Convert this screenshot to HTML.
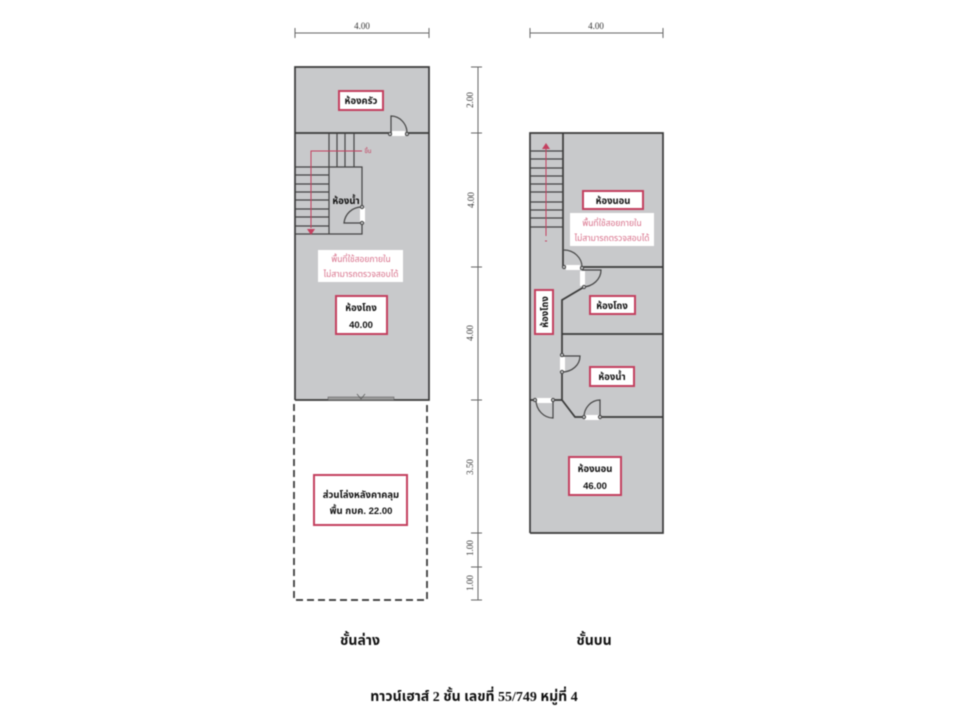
<!DOCTYPE html>
<html lang="th">
<head>
<meta charset="utf-8">
<title>ทาวน์เฮาส์ 2 ชั้น</title>
<style>
html,body{margin:0;padding:0;background:#fff;width:960px;height:720px;overflow:hidden}
svg{display:block;filter:blur(.4px)}
text{font-family:"Liberation Sans","Noto Sans Thai","Loma","Garuda",sans-serif;text-anchor:middle}
.dim{font-family:"Liberation Serif",serif;font-size:9px;fill:#333}
.rm{font-size:9.5px;font-weight:bold;fill:#111}
.nt{font-size:8.5px;fill:#d8708a}
.fl{font-family:"Liberation Serif","Noto Sans Thai",serif;font-size:14px;font-weight:bold;fill:#111}
.w{stroke:#3a3a3a;stroke-width:1.7;fill:none}
.t{stroke:#444;stroke-width:1.2;fill:none}
.d{stroke:#666;stroke-width:1;fill:none}
.r{fill:#fff;stroke:#c4405f;stroke-width:2}
.g{fill:#c8c9cb}
.j{fill:#c8c9cb;stroke:#444;stroke-width:1}
</style>
</head>
<body>
<svg width="960" height="720" viewBox="0 0 960 720" xmlns="http://www.w3.org/2000/svg">
<rect width="960" height="720" fill="#fff"/>
<!-- top dims -->
<path class="d" d="M295 33H429M295 28V38M429 28V38M530 33H663M530 28V38M663 28V38"/>
<text class="dim" x="362" y="29">4.00</text>
<text class="dim" x="596" y="29">4.00</text>
<!-- vertical dims -->
<path class="d" d="M478 67V600M471 67H482M471 133H482M471 267H482M471 400H482M471 533H482M471 567H482M471 600H482"/>
<text class="dim" transform="translate(473,100) rotate(-90)">2.00</text>
<text class="dim" transform="translate(474,200) rotate(-90)">4.00</text>
<text class="dim" transform="translate(473,333) rotate(-90)">4.00</text>
<text class="dim" transform="translate(473,467) rotate(-90)">3.50</text>
<text class="dim" transform="translate(473,548) rotate(-90)">1.00</text>
<text class="dim" transform="translate(473,583) rotate(-90)">1.00</text>

<!-- ground floor -->
<rect class="g" x="295" y="67" width="134" height="333"/>
<path class="w" d="M295 400V67H429V400H295"/>
<path class="w" d="M295 133H390M406 133H429"/>
<path class="t" d="M329 133V167M337 133V167M345 133V167M354 133V167"/>
<path class="t" d="M295 167H362V207M362 223V234H295M295 175H329M295 184H329M295 192H329M295 200H329M295 209H329M295 217H329M295 226H329M329 167V234"/>
<path stroke="#c4405f" stroke-width="1" fill="none" d="M362 151H311V228"/>
<path fill="#c4405f" d="M307 229H315L311 235Z"/>
<text x="368" y="153" font-size="6" fill="#c4405f">ขึ้น</text>
<!-- kitchen door -->
<rect x="392" y="131" width="13" height="5" fill="#fff"/>
<path class="t" d="M391 133V116C400 116 407 124 407 133"/>
<circle class="j" cx="390" cy="134" r="1.6"/><circle class="j" cx="407" cy="134" r="1.6"/>
<!-- bath door -->
<rect x="360" y="208" width="5" height="14" fill="#fff"/>
<path class="t" d="M362 223H344C345 214 352 207 362 207"/>
<circle class="j" cx="362" cy="207" r="1.6"/><circle class="j" cx="362" cy="223" r="1.6"/>
<!-- window -->
<rect x="328" y="397" width="66" height="3" fill="#9a9a9a" stroke="#555" stroke-width=".5"/>
<path d="M357 394L361 399L365 394" stroke="#555" stroke-width=".7" fill="none"/>
<!-- labels -->
<rect class="r" x="339" y="91" width="44" height="19"/>
<text class="rm" x="361" y="104">ห้องครัว</text>
<text class="rm" x="346" y="204">ห้องน้ำ</text>
<rect x="318" y="250" width="85" height="32" fill="#fff"/>
<text class="nt" x="361" y="262">พื้นที่ใช้สอยภายใน</text>
<text class="nt" x="361" y="277">ไม่สามารถตรวจสอบได้</text>
<rect class="r" x="336" y="296" width="51" height="38"/>
<text class="rm" x="361" y="311">ห้องโถง</text>
<text class="rm" x="361" y="328" font-size="10">40.00</text>
<!-- dashed -->
<path fill="none" stroke="#333" stroke-width="1.7" stroke-dasharray="7 4" d="M294 404V600H427V404"/>
<rect class="r" x="314" y="475" width="93" height="50"/>
<text class="rm" x="361" y="498" font-size="10">ส่วนโล่งหลังคาคลุม</text>
<text class="rm" x="361" y="514" font-size="10">พื้น กบค. 22.00</text>

<!-- upper floor -->
<rect class="g" x="530" y="133" width="133" height="400"/>
<path class="w" d="M530 533V133H663V533H530"/>
<path class="w" d="M563 133V267M582 267H663M584 287L562 300V355M562 334H663M562 372V400H553M530 400H535M562 400L575 417H583M600 417H663"/>
<path class="t" d="M530 151H563M530 159H563M530 168H563M530 176H563M530 184H563M530 192H563M530 202H563M530 210H563M530 218H563M530 227H563"/>
<path stroke="#c4405f" stroke-width="1" fill="none" d="M546 236V148M545 241H547"/>
<path fill="#c4405f" d="M542 149H550L546 143Z"/>
<!-- doors -->
<rect x="566" y="265" width="14" height="5" fill="#fff"/>
<path class="t" d="M564 250C574 250 582 258 582 267"/>
<circle class="j" cx="564" cy="267" r="1.6"/><circle class="j" cx="582" cy="268" r="1.6"/>
<rect x="580" y="271" width="5" height="15" fill="#fff"/>
<path class="t" d="M582 270H601C601 279 593 287 582 287"/>
<circle class="j" cx="584" cy="287" r="1.6"/>
<rect x="560" y="357" width="5" height="14" fill="#fff"/>
<path class="t" d="M562 356H580C580 365 572 372 562 372"/>
<circle class="j" cx="562" cy="355" r="1.6"/><circle class="j" cx="562" cy="372" r="1.6"/>
<rect x="536" y="398" width="16" height="5" fill="#fff"/>
<path class="t" d="M553 400V418C544 418 536 410 536 400"/>
<circle class="j" cx="535" cy="400" r="1.6"/><circle class="j" cx="553" cy="400" r="1.6"/>
<rect x="585" y="415" width="14" height="5" fill="#fff"/>
<path class="t" d="M600 417V400C591 400 584 408 584 417"/>
<circle class="j" cx="584" cy="417" r="1.6"/><circle class="j" cx="600" cy="417" r="1.6"/>
<!-- labels -->
<rect class="r" x="583" y="191" width="60" height="18"/>
<text class="rm" x="613" y="204">ห้องนอน</text>
<rect x="570" y="213" width="84" height="33" fill="#fff"/>
<text class="nt" x="612" y="226">พื้นที่ใช้สอยภายใน</text>
<text class="nt" x="612" y="241">ไม่สามารถตรวจสอบได้</text>
<rect class="r" x="535" y="290" width="18" height="44"/>
<text class="rm" transform="translate(548,312) rotate(-90)">ห้องโถง</text>
<rect class="r" x="590" y="296" width="45" height="18"/>
<text class="rm" x="612" y="309">ห้องโถง</text>
<rect class="r" x="590" y="367" width="44" height="19"/>
<text class="rm" x="612" y="380">ห้องน้ำ</text>
<rect class="r" x="569" y="457" width="52" height="38"/>
<text class="rm" x="595" y="472">ห้องนอน</text>
<text class="rm" x="595" y="489" font-size="10">46.00</text>

<!-- captions -->
<text class="fl" x="360" y="645">ชั้นล่าง</text>
<text class="fl" x="594" y="645">ชั้นบน</text>
<text class="fl" x="474" y="701">ทาวน์เฮาส์ 2 ชั้น เลขที่ 55/749 หมู่ที่ 4</text>
</svg>
</body>
</html>
